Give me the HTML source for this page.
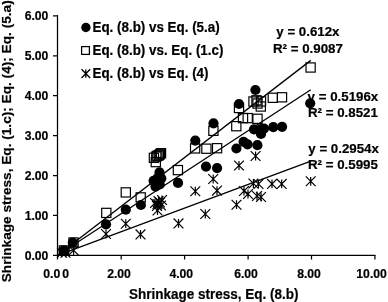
<!DOCTYPE html>
<html><head><meta charset="utf-8">
<style>
html,body{margin:0;padding:0;background:#fff;}
body{width:388px;height:302px;overflow:hidden;position:relative;}
svg{position:absolute;left:0;top:0;will-change:transform;}
text{font-family:"Liberation Sans",sans-serif;font-weight:bold;fill:#000;stroke:#000;stroke-width:0.2px;}
.tk{font-size:12.2px;}
.lg{font-size:13.4px;}
.tl{font-size:13.3px;}
.ti{font-size:13.5px;}
.yt{font-size:13.65px;}
</style></head>
<body>
<svg width="388" height="302" viewBox="0 0 388 302">
<!-- axes -->
<g stroke="#000" stroke-width="1.25" fill="none">
<path d="M57.5,15.3V259.6M53,255.3H375.4"/>
<path d="M53,15.9H58M53,55.8H58M53,95.7H58M53,135.6H58M53,175.5H58M53,215.4H58"/>
<path d="M121.2,255V259.6M184.6,255V259.6M248.1,255V259.6M311.5,255V259.6M374.9,255V259.6"/>
</g>
<!-- y tick labels -->
<g class="tk" text-anchor="end">
<text x="48.4" y="20.2">6.00</text>
<text x="48.4" y="60.1">5.00</text>
<text x="48.4" y="100">4.00</text>
<text x="48.4" y="139.9">3.00</text>
<text x="48.4" y="179.8">2.00</text>
<text x="48.4" y="219.7">1.00</text>
<text x="48.4" y="259.6">0.00</text>
</g>
<!-- x tick labels -->
<g class="tk" text-anchor="middle">
<text x="56.2" y="277.6">0.0<tspan dx="2">0</tspan></text>
<text x="119" y="277.6">2.00</text>
<text x="181.3" y="277.6">4.00</text>
<text x="246" y="277.6">6.00</text>
<text x="309" y="277.6">8.00</text>
<text x="371.6" y="277.6">10.00</text>
</g>
<!-- axis titles -->
<text class="ti" transform="translate(129,299) scale(1,1.06)">Shrinkage stress, Eq. (8.b)</text>
<text class="yt" transform="translate(10.7,282.3) rotate(-90)">Shrinkage stress, Eq. (1.c); Eq. (4); Eq. (5.a)</text>

<!-- circles -->
<g fill="#000">
<circle cx="63.6" cy="250.6" r="5.1"/>
<circle cx="64.6" cy="250.9" r="5.1"/>
<circle cx="72.8" cy="242.7" r="5.1"/>
<circle cx="106" cy="224.3" r="5.1"/>
<circle cx="125.8" cy="209.7" r="5.1"/>
<circle cx="140.9" cy="205" r="5.1"/>
<circle cx="159.5" cy="172.3" r="5.1"/>
<circle cx="161.3" cy="178.3" r="5.1"/>
<circle cx="153.6" cy="180.8" r="5.1"/>
<circle cx="155.5" cy="186.6" r="5.1"/>
<circle cx="159.8" cy="184.5" r="5.1"/>
<circle cx="157.5" cy="178" r="5.1"/>
<circle cx="178" cy="182.9" r="5.1"/>
<circle cx="195.3" cy="140.6" r="5.1"/>
<circle cx="206" cy="166.6" r="5.1"/>
<circle cx="217.1" cy="168.1" r="5.1"/>
<circle cx="213.5" cy="123.3" r="5.1"/>
<circle cx="239" cy="104" r="5.1"/>
<circle cx="255.4" cy="90" r="5.1"/>
<circle cx="236.4" cy="148.5" r="5.1"/>
<circle cx="243.6" cy="141.8" r="5.1"/>
<circle cx="247.6" cy="144.3" r="5.1"/>
<circle cx="257.4" cy="145.2" r="5.1"/>
<circle cx="254" cy="129.3" r="5.1"/>
<circle cx="261" cy="129" r="5.1"/>
<circle cx="261" cy="133.9" r="5.1"/>
<circle cx="264" cy="128.6" r="5.1"/>
<circle cx="273.3" cy="127.2" r="5.1"/>
<circle cx="282.1" cy="126.8" r="5.1"/>
<circle cx="310.2" cy="103.3" r="5.1"/>
</g>
<!-- squares -->
<g fill="none" stroke="#000" stroke-width="1.2">
<rect x="59.3" y="245.8" width="9.2" height="9.2"/>
<rect x="68.9" y="237.9" width="9.2" height="9.2"/>
<rect x="101.7" y="208.3" width="9.2" height="9.2"/>
<rect x="121.2" y="187.8" width="9.2" height="9.2"/>
<rect x="136.1" y="192.8" width="9.2" height="9.2"/>
<rect x="151.2" y="157.5" width="9.2" height="9.2"/>
<rect x="149.3" y="153.2" width="9.2" height="9.2"/>
<rect x="151.7" y="152.0" width="9.2" height="9.2"/>
<rect x="152.8" y="151.2" width="9.2" height="9.2"/>
<rect x="154.2" y="150.7" width="9.2" height="9.2"/>
<rect x="155.3" y="149.7" width="9.2" height="9.2"/>
<rect x="156.4" y="148.6" width="9.2" height="9.2"/>
<rect x="173.3" y="165.5" width="9.2" height="9.2"/>
<rect x="190.5" y="143.8" width="9.2" height="9.2"/>
<rect x="201.8" y="144.1" width="9.2" height="9.2"/>
<rect x="212.5" y="143.6" width="9.2" height="9.2"/>
<rect x="208.8" y="126.2" width="9.2" height="9.2"/>
<rect x="231.7" y="121.6" width="9.2" height="9.2"/>
<rect x="234.4" y="103.4" width="9.2" height="9.2"/>
<rect x="238.4" y="113.5" width="9.2" height="9.2"/>
<rect x="243.1" y="113.5" width="9.2" height="9.2"/>
<rect x="252.9" y="114.2" width="9.2" height="9.2"/>
<rect x="248.9" y="96.9" width="9.2" height="9.2"/>
<rect x="251.9" y="95.7" width="9.2" height="9.2"/>
<rect x="256.2" y="101.9" width="9.2" height="9.2"/>
<rect x="256.4" y="96.8" width="9.2" height="9.2"/>
<rect x="252.9" y="98.9" width="9.2" height="9.2"/>
<rect x="268.2" y="93.2" width="9.2" height="9.2"/>
<rect x="277.4" y="92.7" width="9.2" height="9.2"/>
<rect x="306.0" y="62.9" width="9.2" height="9.2"/>
</g>
<!-- asterisks -->
<g fill="none" stroke="#000" stroke-width="1.2">
<path d="M57.1,247.9L66.9,257.7M57.1,257.7L66.9,247.9M62,248.4V257.2"/>
<path d="M60.6,247.9L70.4,257.7M60.6,257.7L70.4,247.9M65.5,248.4V257.2"/>
<path d="M68.7,245.4L78.5,255.2M68.7,255.2L78.5,245.4M73.6,245.9V254.7"/>
<path d="M101.1,229.1L110.9,238.9M101.1,238.9L110.9,229.1M106,229.6V238.4"/>
<path d="M120.9,218.8L130.7,228.6M120.9,228.6L130.7,218.8M125.8,219.3V228.1"/>
<path d="M135.6,229.5L145.4,239.3M135.6,239.3L145.4,229.5M140.5,230.0V238.8"/>
<path d="M157.1,195.1L166.9,204.9M157.1,204.9L166.9,195.1M162,195.6V204.4"/>
<path d="M153.6,196.1L163.4,205.9M153.6,205.9L163.4,196.1M158.5,196.6V205.4"/>
<path d="M150.1,198.1L159.9,207.9M150.1,207.9L159.9,198.1M155,198.6V207.4"/>
<path d="M152.1,201.1L161.9,210.9M152.1,210.9L161.9,201.1M157,201.6V210.4"/>
<path d="M152.6,205.6L162.4,215.4M152.6,215.4L162.4,205.6M157.5,206.1V214.9"/>
<path d="M155.1,197.6L164.9,207.4M155.1,207.4L164.9,197.6M160,198.1V206.9"/>
<path d="M152.6,199.1L162.4,208.9M152.6,208.9L162.4,199.1M157.5,199.6V208.4"/>
<path d="M156.1,200.6L165.9,210.4M156.1,210.4L165.9,200.6M161,201.1V209.9"/>
<path d="M190.4,186.3L200.2,196.1M190.4,196.1L200.2,186.3M195.3,186.8V195.6"/>
<path d="M173.6,218.5L183.4,228.3M173.6,228.3L183.4,218.5M178.5,219.0V227.8"/>
<path d="M208.3,174.1L218.1,183.9M208.3,183.9L218.1,174.1M213.2,174.6V183.4"/>
<path d="M212.1,185.7L221.9,195.5M212.1,195.5L221.9,185.7M217,186.2V195.0"/>
<path d="M231.6,199.8L241.4,209.6M231.6,209.6L241.4,199.8M236.5,200.3V209.1"/>
<path d="M200.4,209.1L210.2,218.9M200.4,218.9L210.2,209.1M205.3,209.6V218.4"/>
<path d="M234.1,160.6L243.9,170.4M234.1,170.4L243.9,160.6M239,161.1V169.9"/>
<path d="M239.1,186.1L248.9,195.9M239.1,195.9L248.9,186.1M244,186.6V195.4"/>
<path d="M243.1,189.1L252.9,198.9M243.1,198.9L252.9,189.1M248,189.6V198.4"/>
<path d="M250.7,151.1L260.5,160.9M250.7,160.9L260.5,151.1M255.6,151.6V160.4"/>
<path d="M248.5,178.6L258.3,188.4M248.5,188.4L258.3,178.6M253.4,179.1V187.9"/>
<path d="M253.6,179.1L263.4,188.9M253.6,188.9L263.4,179.1M258.5,179.6V188.4"/>
<path d="M252.1,191.1L261.9,200.9M252.1,200.9L261.9,191.1M257,191.6V200.4"/>
<path d="M256.1,192.1L265.9,201.9M256.1,201.9L265.9,192.1M261,192.6V201.4"/>
<path d="M267.1,179.0L276.9,188.8M267.1,188.8L276.9,179.0M272,179.5V188.3"/>
<path d="M276.8,179.0L286.6,188.8M276.8,188.8L286.6,179.0M281.7,179.5V188.3"/>
<path d="M305.8,176.4L315.6,186.2M305.8,186.2L315.6,176.4M310.7,176.9V185.7"/>
</g>
<!-- trend lines -->
<g stroke="#000" stroke-width="1.3" fill="none">
<path d="M57.6,255.3L310.8,60.38"/>
<path d="M57.6,255.3L310.8,89.81"/>
<path d="M57.6,255.3L310.8,161.22"/>
</g>
<!-- trend labels -->
<g class="tl">
<text x="276.3" y="36.2">y = 0.612x</text>
<text x="273" y="52.5">R² = 0.9087</text>
<text x="307.6" y="101.2">y = 0.5196x</text>
<text x="308" y="117.4">R² = 0.8521</text>
<text x="308.3" y="153.4">y = 0.2954x</text>
<text x="308" y="168.5">R² = 0.5995</text>
</g>
<!-- legend -->
<circle cx="85.9" cy="27.5" r="4.7" fill="#000"/>
<rect x="81.6" y="46.6" width="7.8" height="7.8" fill="#fff" stroke="#000" stroke-width="1.25"/>
<path d="M81.5,69.3L90.2,78M81.5,78L90.2,69.3M85.8,69.6V77.7" stroke="#000" stroke-width="1.3"/>
<g class="lg">
<text transform="translate(92.5,32) scale(1,1.09)">Eq. (8.b) vs Eq. (5.a)</text>
<text transform="translate(92.5,54.6) scale(1,1.09)">Eq. (8.b) vs. Eq. (1.c)</text>
<text transform="translate(92.5,77.8) scale(1,1.09)">Eq. (8.b) vs Eq. (4)</text>
</g>
</svg>
</body></html>
